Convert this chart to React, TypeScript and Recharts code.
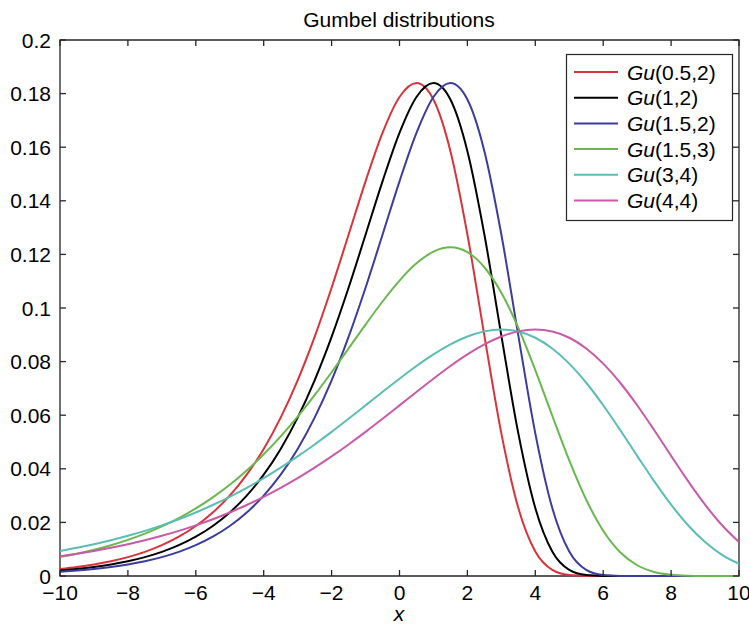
import { LineChart, Line, XAxis, YAxis, ReferenceArea } from 'recharts';

// sample grid on the x axis
const xs = [
  -10, -9.5, -9, -8.5, -8, -7.5, -7, -6.5, -6, -5.5, -5, -4.5, -4, -3.5, -3, -2.5, -2, -1.5, -1, -0.5,
  0, 0.5, 1, 1.5, 2, 2.5, 3, 3.5, 4, 4.5, 5, 5.5, 6, 6.5, 7, 7.5, 8, 8.5, 9, 9.5, 10,
];

// density values, one per sample of xs
const gu05_2 = [
  0.00261, 0.00335, 0.00429, 0.00549, 0.00703, 0.00899, 0.01149, 0.01465, 0.01865, 0.02369,
  0.02999, 0.03781, 0.04743, 0.0591, 0.07303, 0.08925, 0.10757, 0.12732, 0.14727, 0.16535,
  0.17872, 0.18394, 0.17779, 0.15853, 0.12744, 0.08969, 0.05321, 0.02535, 0.00912, 0.00228,
  0.00036, 0.00003, 0, 0, 0, 0, 0, 0, 0, 0, 0,
];
const gu1_2 = [
  0.00204, 0.00261, 0.00335, 0.00429, 0.00549, 0.00703, 0.00899, 0.01149, 0.01465, 0.01865,
  0.02369, 0.02999, 0.03781, 0.04743, 0.0591, 0.07303, 0.08925, 0.10757, 0.12732, 0.14727,
  0.16535, 0.17872, 0.18394, 0.17779, 0.15853, 0.12744, 0.08969, 0.05321, 0.02535, 0.00912,
  0.00228, 0.00036, 0.00003, 0, 0, 0, 0, 0, 0, 0, 0,
];
const gu15_2 = [
  0.00159, 0.00204, 0.00261, 0.00335, 0.00429, 0.00549, 0.00703, 0.00899, 0.01149, 0.01465,
  0.01865, 0.02369, 0.02999, 0.03781, 0.04743, 0.0591, 0.07303, 0.08925, 0.10757, 0.12732,
  0.14727, 0.16535, 0.17872, 0.18394, 0.17779, 0.15853, 0.12744, 0.08969, 0.05321, 0.02535,
  0.00912, 0.00228, 0.00036, 0.00003, 0, 0, 0, 0, 0, 0, 0,
];
const gu15_3 = [
  0.00706, 0.00831, 0.00977, 0.01148, 0.01347, 0.01579, 0.01849, 0.02161, 0.02521, 0.02934,
  0.03405, 0.0394, 0.04542, 0.05212, 0.0595, 0.06751, 0.07603, 0.08488, 0.09381, 0.10242,
  0.11023, 0.11666, 0.12102, 0.12263, 0.12084, 0.11521, 0.10568, 0.09258, 0.07683, 0.05979,
  0.04314, 0.02847, 0.0169, 0.00886, 0.00401, 0.00152, 0.00047, 0.00011, 0.00002, 0, 0,
];
const gu3_4 = [
  0.00933, 0.01051, 0.01184, 0.01333, 0.01499, 0.01684, 0.0189, 0.02119, 0.02371, 0.0265,
  0.02955, 0.03289, 0.03651, 0.04043, 0.04463, 0.04909, 0.05378, 0.05866, 0.06366, 0.06869,
  0.07363, 0.07835, 0.08268, 0.08641, 0.08936, 0.09128, 0.09197, 0.09122, 0.0889, 0.0849,
  0.07926, 0.07211, 0.06372, 0.05447, 0.04484, 0.03538, 0.02661, 0.01894, 0.01268, 0.00791,
  0.00456,
];
const gu4_4 = [
  0.00733, 0.00827, 0.00933, 0.01051, 0.01184, 0.01333, 0.01499, 0.01684, 0.0189, 0.02119,
  0.02371, 0.0265, 0.02955, 0.03289, 0.03651, 0.04043, 0.04463, 0.04909, 0.05378, 0.05866,
  0.06366, 0.06869, 0.07363, 0.07835, 0.08268, 0.08641, 0.08936, 0.09128, 0.09197, 0.09122,
  0.0889, 0.0849, 0.07926, 0.07211, 0.06372, 0.05447, 0.04484, 0.03538, 0.02661, 0.01894,
  0.01268,
];

const xTicks = [-10, -8, -6, -4, -2, 0, 2, 4, 6, 8, 10];
const yTicks = [0, 0.02, 0.04, 0.06, 0.08, 0.1, 0.12, 0.14, 0.16, 0.18, 0.2];

const series = [
  { key: 'gu05_2', params: '(0.5,2)', color: '#d8333b', values: gu05_2 },
  { key: 'gu1_2', params: '(1,2)', color: '#000000', values: gu1_2 },
  { key: 'gu15_2', params: '(1.5,2)', color: '#3b3c9c', values: gu15_2 },
  { key: 'gu15_3', params: '(1.5,3)', color: '#6ab74f', values: gu15_3 },
  { key: 'gu3_4', params: '(3,4)', color: '#5bbdb3', values: gu3_4 },
  { key: 'gu4_4', params: '(4,4)', color: '#c95aa7', values: gu4_4 },
];

const data = xs.map((x, i) => {
  const row: Record<string, number> = { x };
  series.forEach((s) => {
    row[s.key] = s.values[i];
  });
  return row;
});

const W = 749;
const H = 624;
const FONT = '"Liberation Sans", Arial, Helvetica, sans-serif';
const FS = 21;
const PLOT_LEFT = 60;
const PLOT_RIGHT = 739;
const PLOT_TOP = 40;
const PLOT_BOTTOM = 576;
const TICK = 6;
const AXIS = '#262626';

const fmtX = (v: number) => (v < 0 ? `\u2212${-v}` : `${v}`);
const fmtY = (v: number) => `${Number(v.toFixed(2))}`;

// bottom tick: inward mark at bottom and top of the frame, label below
function XTick(props: any) {
  const { x, y, payload } = props;
  return (
    <g>
      <line x1={x} y1={PLOT_BOTTOM} x2={x} y2={PLOT_BOTTOM - TICK} stroke={AXIS} strokeWidth={1.3} />
      <line x1={x} y1={PLOT_TOP} x2={x} y2={PLOT_TOP + TICK} stroke={AXIS} strokeWidth={1.3} />
      <text x={x} y={y + 24} textAnchor="middle" fontFamily={FONT} fontSize={FS} fill="#000">
        {fmtX(payload.value)}
      </text>
    </g>
  );
}

// left tick: inward mark at left and right of the frame, label to the left
function YTick(props: any) {
  const { x, y, payload } = props;
  return (
    <g>
      <line x1={PLOT_LEFT} y1={y} x2={PLOT_LEFT + TICK} y2={y} stroke={AXIS} strokeWidth={1.3} />
      <line x1={PLOT_RIGHT} y1={y} x2={PLOT_RIGHT - TICK} y2={y} stroke={AXIS} strokeWidth={1.3} />
      <text x={x - 9} y={y + 7.5} textAnchor="end" fontFamily={FONT} fontSize={FS} fill="#000">
        {fmtY(payload.value)}
      </text>
    </g>
  );
}

export default function App() {
  const legendX = 566;
  const legendY = 54;
  const rowGap = 25.7;

  return (
    <div style={{ position: 'absolute', left: 0, top: 0, width: W, height: H, background: '#fff' }}>
      <LineChart
        width={W}
        height={H}
        data={data}
        margin={{ top: PLOT_TOP, right: W - PLOT_RIGHT, bottom: 0, left: 0 }}
      >
        <ReferenceArea
          x1={-10}
          x2={10}
          y1={0}
          y2={0.2}
          fill="none"
          stroke={AXIS}
          strokeWidth={1.3}
          ifOverflow="visible"
        />
        <XAxis
          dataKey="x"
          type="number"
          domain={[-10, 10]}
          ticks={xTicks}
          height={H - PLOT_BOTTOM}
          axisLine={false}
          tickLine={false}
          tickSize={0}
          tickMargin={0}
          tick={<XTick />}
          interval={0}
        />
        <YAxis
          type="number"
          domain={[0, 0.2]}
          ticks={yTicks}
          width={PLOT_LEFT}
          axisLine={false}
          tickLine={false}
          tickSize={0}
          tickMargin={0}
          tick={<YTick />}
          interval={0}
        />
        {series.map((s) => (
          <Line
            key={s.key}
            dataKey={s.key}
            type="monotone"
            stroke={s.color}
            strokeWidth={2}
            dot={false}
            isAnimationActive={false}
          />
        ))}
      </LineChart>

      {/* title, x label and legend */}
      <svg
        width={W}
        height={H}
        style={{ position: 'absolute', left: 0, top: 0, pointerEvents: 'none' }}
      >
        <text x={399} y={27} textAnchor="middle" fontFamily={FONT} fontSize={FS} fill="#000">
          Gumbel distributions
        </text>
        <text x={399} y={621} textAnchor="middle" fontFamily={FONT} fontSize={FS} fontStyle="italic" fill="#000">
          x
        </text>
        <rect x={legendX + 0.5} y={legendY + 0.5} width={166} height={166} fill="#fff" stroke={AXIS} strokeWidth={1.2} />
        {series.map((s, i) => {
          const cy = legendY + 18 + i * rowGap;
          return (
            <g key={s.key}>
              <line x1={574} y1={cy} x2={618} y2={cy} stroke={s.color} strokeWidth={2} />
              <text x={627} y={cy + 7.5} fontFamily={FONT} fontSize={FS} fill="#000">
                <tspan fontStyle="italic">Gu</tspan>
                {s.params}
              </text>
            </g>
          );
        })}
      </svg>
    </div>
  );
}
